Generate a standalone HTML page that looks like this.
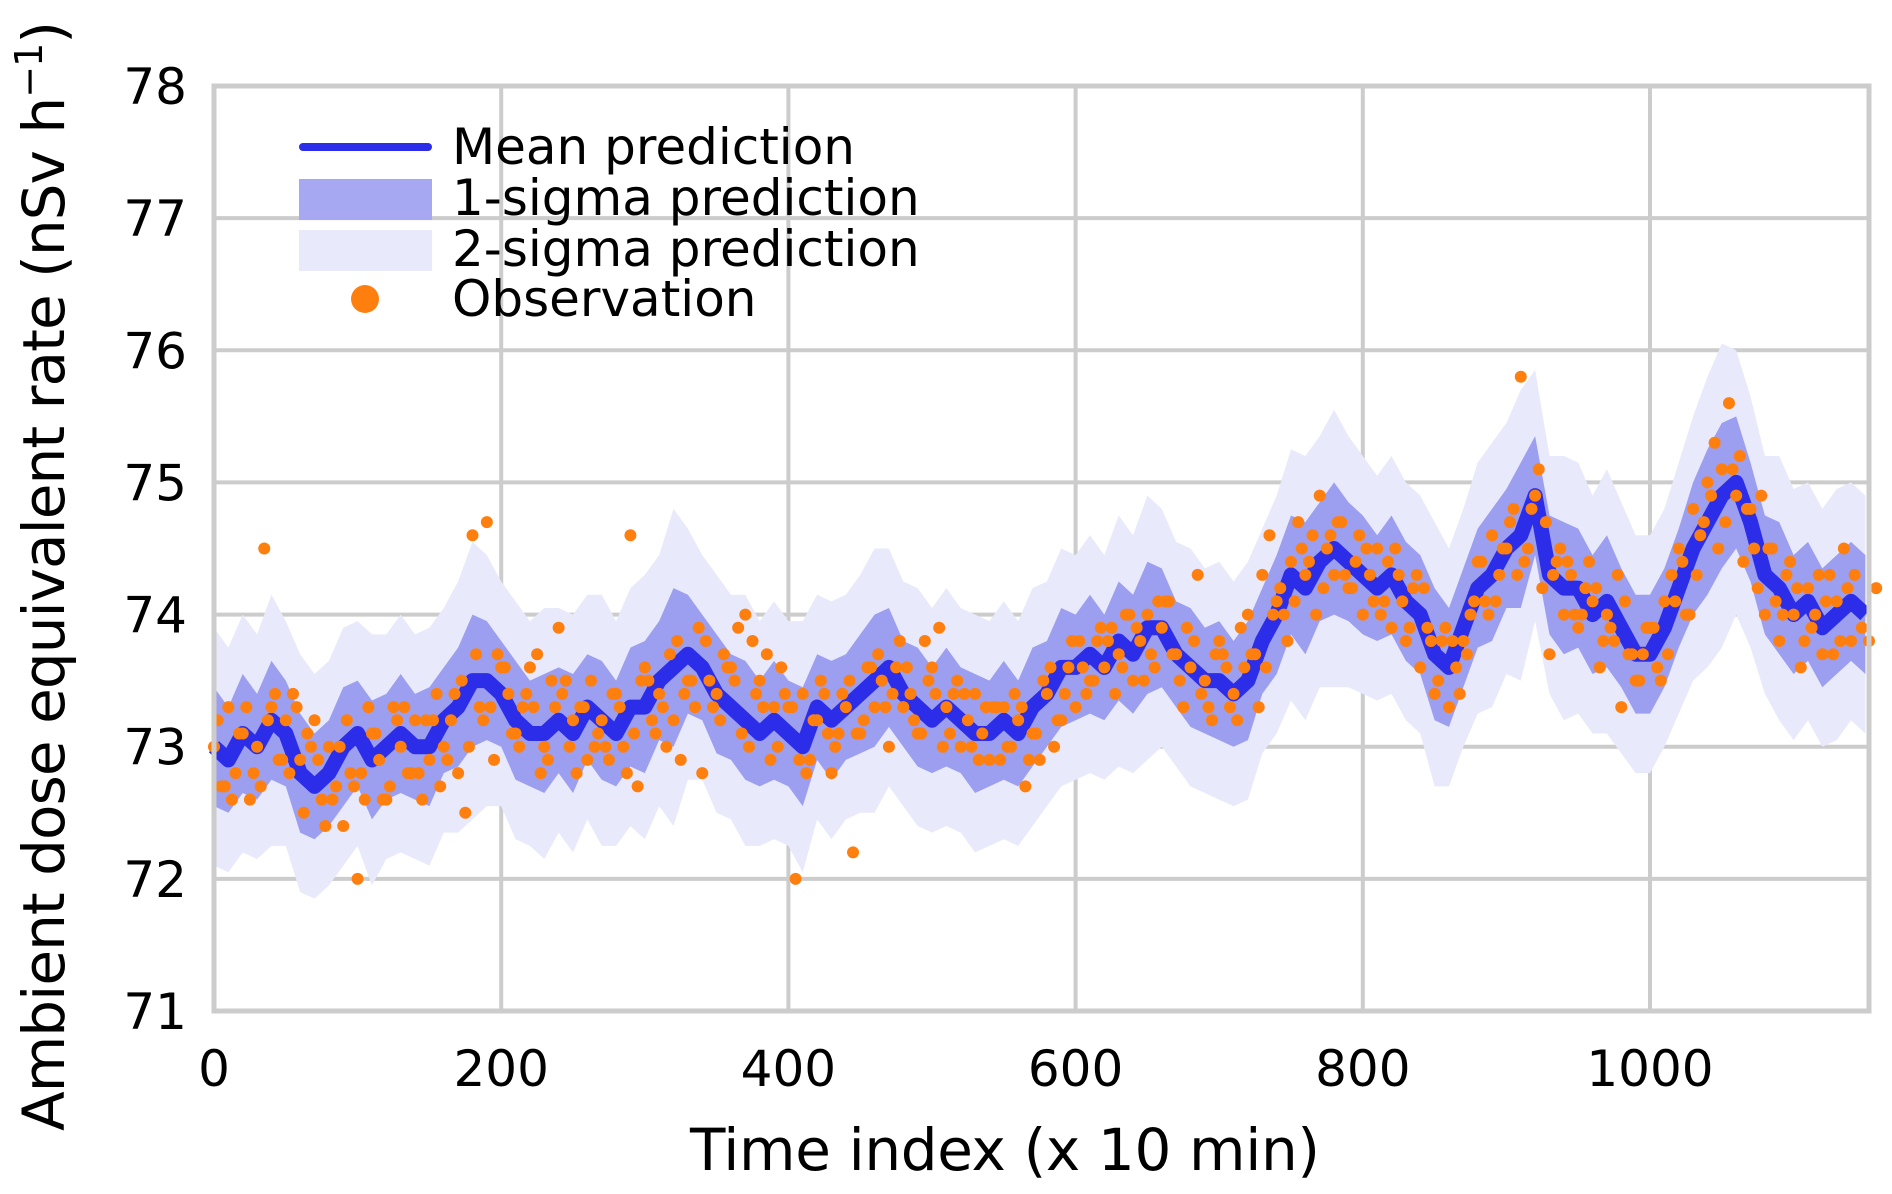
<!DOCTYPE html>
<html><head><meta charset="utf-8"><style>
html,body{margin:0;padding:0;background:#fff;}
svg{display:block;font-family:"DejaVu Sans","Liberation Sans",sans-serif;}
</style></head><body>
<svg id="chart" width="1892" height="1194" viewBox="0 0 1892 1194">
<g id="grid"></g>
<g id="band2"></g>
<g id="band1"></g>
<g id="meanG"></g>
<g id="obsG"></g>
<rect x="214" y="86" width="1655" height="925" fill="none" stroke="#cccccc" stroke-width="5"/>
<g id="ticks"></g>
<text x="1005" y="1170" font-size="58" text-anchor="middle" textLength="630">Time index (x 10 min)</text>
<text transform="translate(64,576) rotate(-90)" font-size="58" text-anchor="middle" textLength="1110">Ambient dose equivalent rate (nSv h<tspan font-size="38" dy="-22">−1</tspan><tspan dy="22">)</tspan></text>
<g>
<line x1="303" y1="147" x2="428" y2="147" stroke="#2b2de8" stroke-width="8" stroke-linecap="round"/>
<text x="452" y="164" font-size="50">Mean prediction</text>
<rect x="299" y="179" width="133" height="41" fill="#a7a8f2"/>
<text x="452" y="215" font-size="50">1-sigma prediction</text>
<rect x="299" y="230" width="133" height="41" fill="#e8e9fb"/>
<text x="452" y="266" font-size="50">2-sigma prediction</text>
<circle cx="365" cy="299" r="14" fill="#ff7f0e"/>
<text x="452" y="316" font-size="50">Observation</text>
</g>
</svg>
<script>
const xTicks=[0,200,400,600,800,1000];
const yTicks=[71,72,73,74,75,76,77,78];
const meanStep=10;
const meanVals=[73.0,72.9,73.1,73.0,73.2,73.1,72.8,72.7,72.8,73.0,73.1,72.9,73.0,73.1,73.0,73.0,73.2,73.3,73.5,73.5,73.4,73.2,73.1,73.1,73.2,73.1,73.3,73.2,73.1,73.3,73.3,73.5,73.6,73.7,73.6,73.4,73.3,73.2,73.1,73.2,73.1,73.0,73.3,73.2,73.3,73.4,73.5,73.6,73.4,73.3,73.2,73.3,73.2,73.1,73.1,73.2,73.1,73.3,73.4,73.6,73.6,73.7,73.6,73.8,73.7,73.9,73.9,73.7,73.6,73.5,73.5,73.4,73.5,73.8,74.0,74.3,74.2,74.4,74.5,74.4,74.3,74.2,74.3,74.1,74.0,73.7,73.6,73.9,74.2,74.3,74.5,74.6,74.9,74.3,74.2,74.2,74.0,74.1,73.9,73.7,73.7,73.9,74.2,74.5,74.7,74.9,75.0,74.7,74.3,74.2,74.0,74.1,73.9,74.0,74.1,74.0];
const sigma1=[0.45,0.4,0.45,0.4,0.45,0.4,0.45,0.4,0.4,0.45,0.4,0.45,0.4,0.45,0.4,0.45,0.4,0.45,0.5,0.45,0.4,0.45,0.4,0.45,0.4,0.45,0.4,0.45,0.4,0.45,0.5,0.45,0.6,0.45,0.4,0.45,0.4,0.45,0.4,0.45,0.4,0.45,0.4,0.45,0.4,0.45,0.5,0.45,0.4,0.45,0.4,0.45,0.4,0.45,0.4,0.45,0.4,0.45,0.4,0.45,0.4,0.45,0.4,0.45,0.45,0.5,0.45,0.4,0.45,0.4,0.45,0.4,0.45,0.4,0.45,0.45,0.5,0.45,0.5,0.45,0.45,0.4,0.45,0.45,0.45,0.5,0.45,0.45,0.45,0.5,0.45,0.55,0.45,0.45,0.5,0.45,0.45,0.5,0.45,0.45,0.45,0.45,0.45,0.5,0.55,0.55,0.5,0.45,0.45,0.5,0.45,0.45,0.45,0.45,0.45,0.45];
const sigma2=[0.9,0.85,0.9,0.85,0.95,0.85,0.9,0.85,0.85,0.9,0.85,0.95,0.85,0.9,0.85,0.9,0.85,0.95,1.05,0.95,0.85,0.9,0.85,0.95,0.85,0.9,0.85,0.95,0.85,0.9,1.0,0.95,1.2,0.95,0.85,0.9,0.85,0.95,0.85,0.9,0.85,0.95,0.85,0.9,0.85,0.9,1.0,0.9,0.85,0.9,0.85,0.9,0.85,0.9,0.85,0.9,0.85,0.9,0.85,0.9,0.85,0.9,0.85,0.95,0.9,1.0,0.9,0.85,0.9,0.85,0.9,0.85,0.9,0.85,0.9,0.95,1.0,0.95,1.05,0.95,0.9,0.85,0.9,0.9,0.9,1.0,0.9,0.9,0.95,1.0,0.95,1.1,0.95,0.9,1.0,0.95,0.9,1.0,0.95,0.9,0.9,0.9,0.95,1.0,1.1,1.15,1.0,0.95,0.9,1.0,0.95,0.9,0.9,0.95,0.9,0.9];
const obsStep=5;
const obsVals=[73.0,72.7,73.3,72.8,73.1,72.6,73.0,74.5,73.3,72.9,73.2,73.4,72.9,73.1,73.2,72.6,73.0,72.7,72.4,72.8,72.0,72.6,73.1,72.9,72.6,73.3,73.0,72.8,73.2,72.6,72.9,73.4,73.0,73.2,72.8,72.5,74.6,73.3,74.7,72.9,73.6,73.4,73.1,73.3,73.6,73.7,73.0,73.5,73.9,73.5,73.2,73.3,72.9,73.0,73.2,72.9,73.4,73.0,74.6,72.7,73.6,73.2,73.4,73.0,73.2,72.9,73.5,73.3,72.8,73.5,73.4,73.7,73.6,73.9,74.0,73.8,73.5,73.7,73.3,73.6,73.3,72.0,73.4,72.9,73.2,73.4,72.8,73.1,73.3,72.2,73.1,73.6,73.3,73.5,73.0,73.6,73.3,73.4,73.1,73.8,73.6,73.9,73.3,73.4,73.0,73.2,73.4,73.1,72.9,73.3,73.3,73.0,73.2,72.7,73.1,72.9,73.4,73.0,73.2,73.6,73.3,73.6,73.5,73.8,73.6,73.9,73.7,74.0,73.5,73.8,74.0,73.6,73.9,74.1,73.7,73.3,73.6,74.3,73.5,73.2,73.8,73.6,73.4,73.9,74.0,73.7,74.3,74.6,74.1,74.0,74.4,74.7,74.3,74.6,74.9,74.5,74.3,74.7,74.2,74.4,74.0,74.3,74.5,74.1,73.9,74.3,73.8,74.2,73.6,73.9,73.4,73.8,73.3,73.6,73.8,74.0,74.4,74.1,74.6,74.3,74.5,74.8,75.8,74.5,74.9,74.2,73.7,74.4,74.0,74.3,73.9,74.2,74.1,73.6,74.0,73.8,73.3,73.7,73.5,73.7,73.9,73.6,74.1,74.3,74.5,74.0,74.8,74.6,75.0,75.3,75.1,75.6,74.9,74.4,74.8,74.2,74.0,74.5,73.8,74.3,74.0,73.6,74.2,74.0,73.7,74.3,74.1,74.5,73.8];
const obsValsB=[73.2,72.7,72.6,73.1,73.3,72.8,72.7,73.2,73.4,72.9,72.8,73.3,72.5,73.0,72.9,72.4,72.6,73.0,73.2,72.7,72.8,73.3,73.1,72.6,72.7,73.2,73.3,72.8,72.8,73.2,73.2,72.7,72.9,73.4,73.5,73.0,73.7,73.2,73.3,73.7,73.6,73.1,73.0,73.4,73.3,72.8,72.9,73.3,73.4,73.0,72.8,73.3,73.5,73.1,73.0,73.4,73.3,72.8,73.1,73.5,73.5,73.1,73.3,73.7,73.8,73.4,73.5,73.9,73.8,73.3,73.2,73.6,73.5,73.1,73.0,73.4,73.3,72.9,73.0,73.4,73.3,72.9,72.8,73.2,73.5,73.1,73.0,73.4,73.5,73.1,73.2,73.6,73.7,73.3,73.4,73.8,73.6,73.2,73.1,73.5,73.4,73.0,73.1,73.5,73.4,73.0,72.9,73.3,73.3,72.9,73.0,73.4,73.3,72.9,73.1,73.5,73.6,73.2,73.4,73.8,73.8,73.4,73.5,73.9,73.8,73.4,73.6,74.0,73.9,73.5,73.7,74.1,74.1,73.7,73.5,73.9,73.8,73.4,73.3,73.7,73.7,73.3,73.2,73.6,73.7,73.3,73.6,74.0,74.2,73.8,74.1,74.5,74.4,74.0,74.2,74.6,74.7,74.3,74.2,74.6,74.5,74.1,74.0,74.4,74.5,74.1,73.9,74.3,74.2,73.8,73.5,73.9,73.8,73.4,73.7,74.1,74.4,74.0,74.1,74.5,74.7,74.3,74.4,74.8,75.1,74.7,74.3,74.5,74.4,74.0,74.0,74.4,74.2,73.8,73.9,74.3,74.1,73.7,73.5,73.9,73.9,73.5,73.7,74.1,74.4,74.0,74.3,74.7,74.9,74.5,74.7,75.1,75.2,74.8,74.5,74.9,74.5,74.1,74.0,74.4,74.2,73.8,73.9,74.3,74.1,73.7,73.8,74.2,74.3,73.9,73.8,74.2];
const X0=214,X1=1869,XMAX=1152.5,Y0=1011,Y1=86;
const sx=v=>X0+(v/XMAX)*(X1-X0);
const sy=v=>Y0-(v-71)/7*(Y0-Y1);
const NS='http://www.w3.org/2000/svg';
function mk(tag,attrs,parent){const e=document.createElementNS(NS,tag);for(const k in attrs)e.setAttribute(k,attrs[k]);parent.appendChild(e);return e;}
const grid=document.getElementById('grid'),ticks=document.getElementById('ticks');
xTicks.forEach(t=>{
 const l=mk('line',{x1:sx(t),x2:sx(t),y1:Y1,y2:Y0,stroke:'#cccccc','stroke-width':4},grid);
 
 
 const tx=mk('text',{x:sx(t),y:1086,'font-size':50,'text-anchor':'middle'},ticks);tx.textContent=t;
 
 
});
yTicks.forEach(t=>{
 const l=mk('line',{x1:X0,x2:X1,y1:sy(t),y2:sy(t),stroke:'#cccccc','stroke-width':4},grid);
 
 
 const tx=mk('text',{x:187,y:sy(t)+18,'font-size':50,'text-anchor':'end'},ticks);tx.textContent=t;
 
 
});
function band(sig,fill,g,name){
 let up=[],lo=[];
 meanVals.forEach((m,i)=>{const x=sx(i*meanStep);up.push(x+','+sy(m+sig[i]));lo.unshift(x+','+sy(m-sig[i]));});
 const p=mk('polygon',{points:up.concat(lo).join(' '),fill:fill},g);
 
 
}
band(sigma2,'#e8e9fb',document.getElementById('band2'),'two-sigma-area');
band(sigma1,'#9c9ef0',document.getElementById('band1'),'one-sigma-area');
const pts=meanVals.map((m,i)=>sx(i*meanStep)+','+sy(m)).join(' ');
const ml=mk('polyline',{points:pts,fill:'none',stroke:'#2b2de8','stroke-width':15,'stroke-linejoin':'round'},document.getElementById('meanG'));


const og=document.getElementById('obsG');
obsVals.forEach((v,i)=>{
 const c=mk('circle',{cx:sx(i*obsStep),cy:sy(v),r:6,fill:'#ff7f0e'},og);
 
 
});
obsValsB.forEach((v,i)=>{
 const c=mk('circle',{cx:sx(i*obsStep+2.5),cy:sy(v),r:6,fill:'#ff7f0e'},og);
 
 
});
</script>
</body></html>
